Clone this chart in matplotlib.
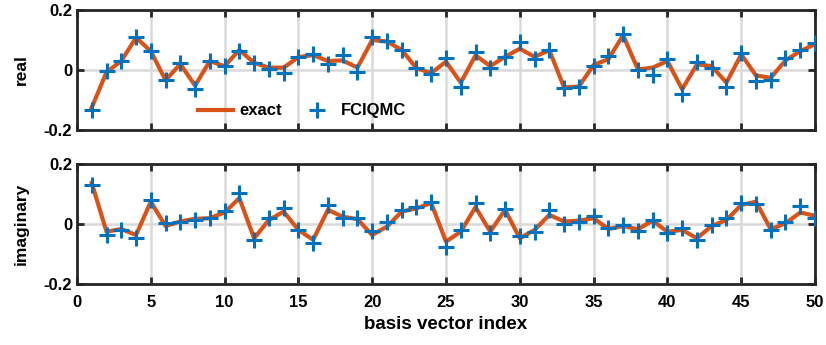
import numpy as np
import matplotlib.pyplot as plt

plt.rcParams['font.family'] = ['Liberation Sans', 'DejaVu Sans']
plt.rcParams['font.weight'] = 'bold'

idx = np.arange(1, 51)

real_exact = [-0.125, -0.007, 0.030, 0.108, 0.063, -0.034, 0.020, -0.052, 0.030, 0.013,
              0.067, 0.024, 0.008, 0.008, 0.043, 0.050, 0.030, 0.032, 0.008, 0.100,
              0.095, 0.067, 0.006, -0.010, 0.028, -0.042, 0.049, 0.013, 0.044, 0.071,
              0.044, 0.066, -0.058, -0.055, 0.017, 0.036, 0.116, 0.002, 0.008, 0.030,
              -0.064, 0.019, 0.013, -0.042, 0.052, -0.018, -0.026, 0.032, 0.063, 0.086]
real_fciqmc = [-0.134, -0.003, 0.030, 0.111, 0.063, -0.034, 0.024, -0.064, 0.030, 0.013,
               0.063, 0.024, 0.002, -0.011, 0.043, 0.054, 0.021, 0.049, -0.006, 0.110,
               0.097, 0.067, 0.006, -0.014, 0.039, -0.056, 0.060, 0.008, 0.044, 0.093,
               0.038, 0.066, -0.061, -0.056, 0.013, 0.047, 0.121, -0.001, -0.017, 0.036,
               -0.081, 0.028, 0.008, -0.056, 0.056, -0.037, -0.033, 0.039, 0.067, 0.091]

imag_exact = [0.136, -0.026, -0.017, -0.037, 0.074, -0.007, 0.008, 0.017, 0.019, 0.038,
              0.086, -0.048, 0.013, 0.041, -0.020, -0.053, 0.047, 0.024, 0.016, -0.037,
              -0.009, 0.041, 0.052, 0.069, -0.059, -0.026, 0.056, -0.026, 0.047, -0.048,
              -0.020, 0.030, 0.008, 0.011, 0.019, -0.017, -0.007, -0.018, 0.011, -0.026,
              -0.020, -0.048, -0.007, 0.013, 0.063, 0.074, -0.018, 0.002, 0.038, 0.027]
imag_fciqmc = [0.130, -0.037, -0.020, -0.046, 0.078, 0.004, 0.008, 0.013, 0.021, 0.043,
               0.102, -0.053, 0.021, 0.052, -0.020, -0.064, 0.063, 0.019, 0.021, -0.023,
               0.008, 0.047, 0.056, 0.074, -0.076, -0.020, 0.071, -0.031, 0.050, -0.040,
               -0.026, 0.047, 0.000, 0.008, 0.028, -0.014, -0.003, -0.023, 0.013, -0.031,
               -0.014, -0.053, -0.003, 0.019, 0.069, 0.066, -0.020, 0.008, 0.058, 0.021]

xticks = np.arange(0, 51, 5)
yticks = [-0.2, 0, 0.2]
ytick_labels = ['-0.2', '0', '0.2']

fig = plt.figure(figsize=(8.26, 3.45), dpi=100)
ax1 = fig.add_axes([0.0932, 0.623, 0.8935, 0.348])
ax2 = fig.add_axes([0.0932, 0.177, 0.8935, 0.348])

for ax, ex, fc, lab in [(ax1, real_exact, real_fciqmc, 'real'),
                        (ax2, imag_exact, imag_fciqmc, 'imaginary')]:
    ax.plot(idx, ex, color='#D95319', lw=3, label='exact', zorder=3)
    ax.plot(idx, fc, ls='none', marker='+', ms=11, mew=2.2, color='#0072BD',
            label='FCIQMC', zorder=4)
    ax.set_xlim(0, 50)
    ax.set_ylim(-0.2, 0.2)
    ax.set_xticks(xticks)
    ax.set_yticks(yticks)
    ax.set_yticklabels(ytick_labels)
    ax.grid(True, color='#d9d9d9', lw=1.8)
    ax.set_axisbelow(True)
    ax.tick_params(direction='in', top=True, right=True, length=5, width=2,
                   labelsize=12, colors='#262626', labelcolor='black')
    ax.tick_params(axis='x', pad=8)
    for s in ax.spines.values():
        s.set_linewidth(2)
        s.set_color('#262626')
    ax.set_ylabel(lab, fontsize=12.5, fontweight='bold')
    ax.yaxis.set_label_coords(-0.065, 0.5)

ax1.tick_params(labelbottom=False)
ax2.set_xlabel('basis vector index', fontsize=13.5, fontweight='bold', labelpad=4)

ax1.legend(loc='center', bbox_to_anchor=(0.305, 0.16), ncol=2, frameon=False,
           fontsize=12, handlelength=2.1, columnspacing=1.0, handletextpad=0.4)

fig.savefig('out.png', dpi=100)
